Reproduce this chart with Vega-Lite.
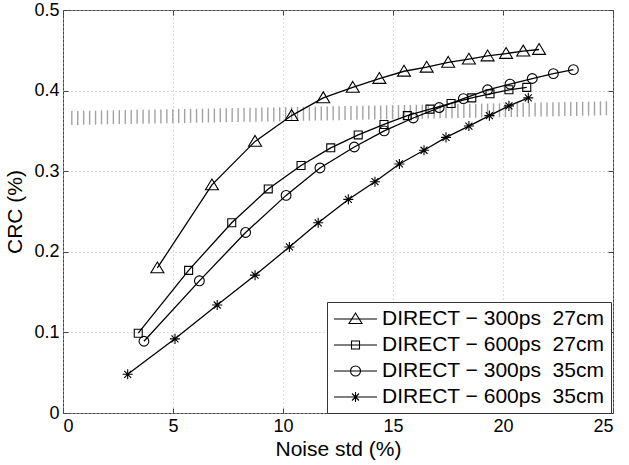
{
  "$schema": "https://vega.github.io/schema/vega-lite/v6.json",
  "width": 550,
  "height": 403,
  "autosize": "none",
  "padding": {"left": 63, "top": 10, "right": 16, "bottom": 52},
  "background": "white",
  "config": {
    "view": {"stroke": "#444", "strokeWidth": 1},
    "font": "Liberation Sans",
    "axis": {
      "labelFont": "Liberation Sans", "labelFontSize": 18, "labelColor": "black",
      "titleFont": "Liberation Sans", "titleFontSize": 21, "titleFontWeight": "normal", "titleColor": "black",
      "domainColor": "#444", "tickColor": "#444", "gridColor": "#bdbdbd", "gridDash": [1, 3], "gridWidth": 1
    },
    "legend": {"labelFont": "Liberation Sans"}
  },
  "datasets": {
    "band": [
      {"x": 0.40, "y": 0.3660}, {"x": 0.67, "y": 0.3661}, {"x": 0.94, "y": 0.3663}, {"x": 1.21, "y": 0.3664}, {"x": 1.48, "y": 0.3665},
      {"x": 1.75, "y": 0.3667}, {"x": 2.02, "y": 0.3668}, {"x": 2.29, "y": 0.3669}, {"x": 2.56, "y": 0.3671}, {"x": 2.83, "y": 0.3672},
      {"x": 3.10, "y": 0.3673}, {"x": 3.37, "y": 0.3675}, {"x": 3.64, "y": 0.3676}, {"x": 3.91, "y": 0.3677}, {"x": 4.18, "y": 0.3679},
      {"x": 4.45, "y": 0.3680}, {"x": 4.72, "y": 0.3681}, {"x": 4.99, "y": 0.3683}, {"x": 5.26, "y": 0.3684}, {"x": 5.53, "y": 0.3685},
      {"x": 5.80, "y": 0.3687}, {"x": 6.07, "y": 0.3688}, {"x": 6.34, "y": 0.3689}, {"x": 6.61, "y": 0.3691}, {"x": 6.88, "y": 0.3692},
      {"x": 7.15, "y": 0.3693}, {"x": 7.42, "y": 0.3695}, {"x": 7.69, "y": 0.3696}, {"x": 7.96, "y": 0.3697}, {"x": 8.23, "y": 0.3699},
      {"x": 8.50, "y": 0.3700}, {"x": 8.77, "y": 0.3701}, {"x": 9.04, "y": 0.3703}, {"x": 9.31, "y": 0.3704}, {"x": 9.58, "y": 0.3705},
      {"x": 9.85, "y": 0.3707}, {"x": 10.12, "y": 0.3708}, {"x": 10.39, "y": 0.3709}, {"x": 10.66, "y": 0.3711}, {"x": 10.93, "y": 0.3712},
      {"x": 11.20, "y": 0.3713}, {"x": 11.47, "y": 0.3715}, {"x": 11.74, "y": 0.3716}, {"x": 12.01, "y": 0.3717}, {"x": 12.28, "y": 0.3719},
      {"x": 12.55, "y": 0.3720}, {"x": 12.82, "y": 0.3721}, {"x": 13.09, "y": 0.3723}, {"x": 13.36, "y": 0.3724}, {"x": 13.63, "y": 0.3725},
      {"x": 13.90, "y": 0.3727}, {"x": 14.17, "y": 0.3728}, {"x": 14.44, "y": 0.3729}, {"x": 14.71, "y": 0.3731}, {"x": 14.98, "y": 0.3732},
      {"x": 15.25, "y": 0.3733}, {"x": 15.52, "y": 0.3735}, {"x": 15.79, "y": 0.3736}, {"x": 16.06, "y": 0.3737}, {"x": 16.33, "y": 0.3739},
      {"x": 16.60, "y": 0.3740}, {"x": 16.87, "y": 0.3741}, {"x": 17.14, "y": 0.3743}, {"x": 17.41, "y": 0.3744}, {"x": 17.68, "y": 0.3745},
      {"x": 17.95, "y": 0.3747}, {"x": 18.22, "y": 0.3748}, {"x": 18.49, "y": 0.3749}, {"x": 18.76, "y": 0.3751}, {"x": 19.03, "y": 0.3752},
      {"x": 19.30, "y": 0.3753}, {"x": 19.57, "y": 0.3755}, {"x": 19.84, "y": 0.3756}, {"x": 20.11, "y": 0.3757}, {"x": 20.38, "y": 0.3759},
      {"x": 20.65, "y": 0.3760}, {"x": 20.92, "y": 0.3761}, {"x": 21.19, "y": 0.3763}, {"x": 21.46, "y": 0.3764}, {"x": 21.73, "y": 0.3765},
      {"x": 22.00, "y": 0.3767}, {"x": 22.27, "y": 0.3768}, {"x": 22.54, "y": 0.3769}, {"x": 22.81, "y": 0.3771}, {"x": 23.08, "y": 0.3772},
      {"x": 23.35, "y": 0.3773}, {"x": 23.62, "y": 0.3775}, {"x": 23.89, "y": 0.3776}, {"x": 24.16, "y": 0.3777}, {"x": 24.43, "y": 0.3779},
      {"x": 24.70, "y": 0.3780}
    ],
    "curves": [
      {"series": "DIRECT − 300ps\u00a0 27cm", "noise": 4.29, "crc": 0.180},
      {"series": "DIRECT − 300ps\u00a0 27cm", "noise": 6.77, "crc": 0.283},
      {"series": "DIRECT − 300ps\u00a0 27cm", "noise": 8.73, "crc": 0.337},
      {"series": "DIRECT − 300ps\u00a0 27cm", "noise": 10.39, "crc": 0.369},
      {"series": "DIRECT − 300ps\u00a0 27cm", "noise": 11.83, "crc": 0.391},
      {"series": "DIRECT − 300ps\u00a0 27cm", "noise": 13.17, "crc": 0.404},
      {"series": "DIRECT − 300ps\u00a0 27cm", "noise": 14.38, "crc": 0.415},
      {"series": "DIRECT − 300ps\u00a0 27cm", "noise": 15.50, "crc": 0.424},
      {"series": "DIRECT − 300ps\u00a0 27cm", "noise": 16.53, "crc": 0.429},
      {"series": "DIRECT − 300ps\u00a0 27cm", "noise": 17.51, "crc": 0.435},
      {"series": "DIRECT − 300ps\u00a0 27cm", "noise": 18.45, "crc": 0.439},
      {"series": "DIRECT − 300ps\u00a0 27cm", "noise": 19.30, "crc": 0.443},
      {"series": "DIRECT − 300ps\u00a0 27cm", "noise": 20.14, "crc": 0.446},
      {"series": "DIRECT − 300ps\u00a0 27cm", "noise": 20.92, "crc": 0.449},
      {"series": "DIRECT − 300ps\u00a0 27cm", "noise": 21.64, "crc": 0.451},
      {"series": "DIRECT − 600ps\u00a0 27cm", "noise": 3.42, "crc": 0.099},
      {"series": "DIRECT − 600ps\u00a0 27cm", "noise": 5.71, "crc": 0.177},
      {"series": "DIRECT − 600ps\u00a0 27cm", "noise": 7.67, "crc": 0.236},
      {"series": "DIRECT − 600ps\u00a0 27cm", "noise": 9.33, "crc": 0.278},
      {"series": "DIRECT − 600ps\u00a0 27cm", "noise": 10.82, "crc": 0.307},
      {"series": "DIRECT − 600ps\u00a0 27cm", "noise": 12.17, "crc": 0.329},
      {"series": "DIRECT − 600ps\u00a0 27cm", "noise": 13.42, "crc": 0.345},
      {"series": "DIRECT − 600ps\u00a0 27cm", "noise": 14.59, "crc": 0.358},
      {"series": "DIRECT − 600ps\u00a0 27cm", "noise": 15.65, "crc": 0.369},
      {"series": "DIRECT − 600ps\u00a0 27cm", "noise": 16.68, "crc": 0.377},
      {"series": "DIRECT − 600ps\u00a0 27cm", "noise": 17.64, "crc": 0.384},
      {"series": "DIRECT − 600ps\u00a0 27cm", "noise": 18.58, "crc": 0.391},
      {"series": "DIRECT − 600ps\u00a0 27cm", "noise": 19.41, "crc": 0.396},
      {"series": "DIRECT − 600ps\u00a0 27cm", "noise": 20.27, "crc": 0.401},
      {"series": "DIRECT − 600ps\u00a0 27cm", "noise": 21.08, "crc": 0.404},
      {"series": "DIRECT − 300ps\u00a0 35cm", "noise": 3.68, "crc": 0.089},
      {"series": "DIRECT − 300ps\u00a0 35cm", "noise": 6.20, "crc": 0.164},
      {"series": "DIRECT − 300ps\u00a0 35cm", "noise": 8.30, "crc": 0.224},
      {"series": "DIRECT − 300ps\u00a0 35cm", "noise": 10.14, "crc": 0.270},
      {"series": "DIRECT − 300ps\u00a0 35cm", "noise": 11.68, "crc": 0.304},
      {"series": "DIRECT − 300ps\u00a0 35cm", "noise": 13.24, "crc": 0.330},
      {"series": "DIRECT − 300ps\u00a0 35cm", "noise": 14.60, "crc": 0.350},
      {"series": "DIRECT − 300ps\u00a0 35cm", "noise": 15.92, "crc": 0.366},
      {"series": "DIRECT − 300ps\u00a0 35cm", "noise": 17.10, "crc": 0.379},
      {"series": "DIRECT − 300ps\u00a0 35cm", "noise": 18.20, "crc": 0.390},
      {"series": "DIRECT − 300ps\u00a0 35cm", "noise": 19.30, "crc": 0.401},
      {"series": "DIRECT − 300ps\u00a0 35cm", "noise": 20.32, "crc": 0.408},
      {"series": "DIRECT − 300ps\u00a0 35cm", "noise": 21.33, "crc": 0.415},
      {"series": "DIRECT − 300ps\u00a0 35cm", "noise": 22.29, "crc": 0.421},
      {"series": "DIRECT − 300ps\u00a0 35cm", "noise": 23.20, "crc": 0.426},
      {"series": "DIRECT − 600ps\u00a0 35cm", "noise": 2.94, "crc": 0.048},
      {"series": "DIRECT − 600ps\u00a0 35cm", "noise": 5.09, "crc": 0.092},
      {"series": "DIRECT − 600ps\u00a0 35cm", "noise": 7.01, "crc": 0.134},
      {"series": "DIRECT − 600ps\u00a0 35cm", "noise": 8.73, "crc": 0.171},
      {"series": "DIRECT − 600ps\u00a0 35cm", "noise": 10.29, "crc": 0.206},
      {"series": "DIRECT − 600ps\u00a0 35cm", "noise": 11.60, "crc": 0.236},
      {"series": "DIRECT − 600ps\u00a0 35cm", "noise": 12.97, "crc": 0.265},
      {"series": "DIRECT − 600ps\u00a0 35cm", "noise": 14.18, "crc": 0.287},
      {"series": "DIRECT − 600ps\u00a0 35cm", "noise": 15.29, "crc": 0.309},
      {"series": "DIRECT − 600ps\u00a0 35cm", "noise": 16.41, "crc": 0.326},
      {"series": "DIRECT − 600ps\u00a0 35cm", "noise": 17.41, "crc": 0.342},
      {"series": "DIRECT − 600ps\u00a0 35cm", "noise": 18.45, "crc": 0.356},
      {"series": "DIRECT − 600ps\u00a0 35cm", "noise": 19.38, "crc": 0.369},
      {"series": "DIRECT − 600ps\u00a0 35cm", "noise": 20.27, "crc": 0.381},
      {"series": "DIRECT − 600ps\u00a0 35cm", "noise": 21.15, "crc": 0.391}
    ]
  },
  "layer": [
    {
      "data": {"name": "band"},
      "mark": {"type": "tick", "orient": "vertical", "size": 14, "thickness": 1.4, "color": "#7a7a7a"},
      "encoding": {
        "x": {"field": "x", "type": "quantitative", "scale": {"domain": [0, 25], "nice": false},
              "axis": {"orient": "bottom", "title": "Noise std (%)", "values": [0, 5, 10, 15, 20, 25], "grid": true, "tickSize": -5, "labelPadding": 9, "titlePadding": 3, "domain": false}},
        "y": {"field": "y", "type": "quantitative", "scale": {"domain": [0, 0.5], "nice": false},
              "axis": {"orient": "left", "title": "CRC (%)", "values": [0, 0.1, 0.2, 0.3, 0.4, 0.5], "format": "~g", "grid": true, "tickSize": -5, "labelPadding": 9, "titlePadding": 8, "domain": false}}
      }
    },
    {
      "data": {"name": "curves"},
      "mark": {"type": "line", "color": "black", "strokeWidth": 1.3},
      "encoding": {
        "x": {"field": "noise", "type": "quantitative", "axis": {"orient": "top", "values": [0, 5, 10, 15, 20, 25], "labels": false, "title": null, "grid": false, "tickSize": -5, "domain": false}},
        "y": {"field": "crc", "type": "quantitative", "axis": {"orient": "right", "values": [0, 0.1, 0.2, 0.3, 0.4, 0.5], "labels": false, "title": null, "grid": false, "tickSize": -5, "domain": false}},
        "detail": {"field": "series", "type": "nominal"}
      }
    },
    {
      "data": {"name": "curves"},
      "mark": {"type": "point", "filled": false, "stroke": "black", "strokeWidth": 1.1, "size": 196, "opacity": 1},
      "encoding": {
        "x": {"field": "noise", "type": "quantitative", "axis": null},
        "y": {"field": "crc", "type": "quantitative", "axis": null},
        "shape": {"field": "series", "type": "nominal", "legend": null,
          "scale": {
            "domain": ["DIRECT − 300ps\u00a0 27cm", "DIRECT − 600ps\u00a0 27cm", "DIRECT − 300ps\u00a0 35cm", "DIRECT − 600ps\u00a0 35cm"],
            "range": [
              "M0,-0.85L0.93,0.7L-0.93,0.7Z",
              "M-0.57,-0.57H0.57V0.57H-0.57Z",
              "M0.7,0A0.7,0.7 0 1,1 -0.7,0A0.7,0.7 0 1,1 0.7,0Z",
              "M0,-0.72V0.72M-0.72,0H0.72M-0.5,-0.5L0.5,0.5M-0.5,0.5L0.5,-0.5"
            ]}}
      }
    },
    {
      "data": {"name": "curves"},
      "mark": {"type": "point", "filled": false, "stroke": "black", "opacity": 0},
      "encoding": {
        "x": {"field": "noise", "type": "quantitative", "axis": null},
        "y": {"field": "crc", "type": "quantitative", "axis": null},
        "shape": {"field": "series", "type": "nominal",
          "scale": {
            "domain": ["DIRECT − 300ps\u00a0 27cm", "DIRECT − 600ps\u00a0 27cm", "DIRECT − 300ps\u00a0 35cm", "DIRECT − 600ps\u00a0 35cm"],
            "range": [
              "M-1,0H3.3M1.15,-0.6L1.8,0.45L0.5,0.45Z",
              "M-1,0H3.3M0.75,-0.4H1.55V0.4H0.75Z",
              "M-1,0H3.3M1.65,0A0.5,0.5 0 1,1 0.65,0A0.5,0.5 0 1,1 1.65,0Z",
              "M-1,0H3.3M1.15,-0.5V0.5M0.65,0H1.65M0.8,-0.35L1.5,0.35M0.8,0.35L1.5,-0.35"
            ]},
          "legend": {
            "title": null, "orient": "none", "legendX": 264, "legendY": 292,
            "symbolSize": 400, "symbolOpacity": 1, "symbolStrokeColor": "black", "symbolFillColor": "transparent", "symbolStrokeWidth": 1.1,
            "labelFontSize": 21, "labelColor": "black", "labelOffset": 27, "labelLimit": 400,
            "strokeColor": "#333", "fillColor": "white", "padding": 6, "rowPadding": 5
          }}
      }
    }
  ],
  "resolve": {"scale": {"shape": "independent"}, "axis": {"x": "independent", "y": "independent"}}
}
